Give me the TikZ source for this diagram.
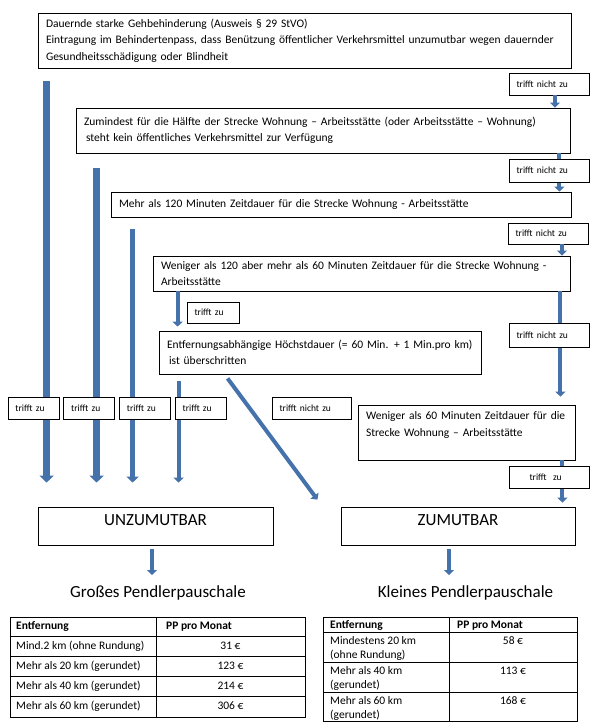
\documentclass[tikz,border=0pt]{standalone}
\usepackage{fontspec}
\setmainfont{Carlito}
\usepackage{xcolor}
\usetikzlibrary{arrows.meta, positioning}
\definecolor{arrowblue}{RGB}{69,114,170}

\begin{document}
\begin{tikzpicture}[x=1pt,y=-1pt,node distance=55.7pt]
       \tikzstyle{box}=[draw,line width=0.8pt,align=left,inner xsep=8pt,inner ysep=2pt,font=\fontsize{11.5}{16.5}\selectfont]
       \tikzstyle{tag}=[draw,fill=white,line width=0.8pt,align=left,inner xsep=7.5pt,inner ysep=1pt,minimum height=22pt,font=\fontsize{9.5}{11}\selectfont]
       \tikzstyle{big}=[draw,line width=0.8pt,minimum width=235pt,minimum height=38pt,text depth=12pt,font=\fontsize{17}{20}\selectfont]
       \tikzstyle{fatarrow}=[draw=arrowblue,line width=6.5pt,-{Triangle[width=14pt,length=7pt]}]
       \tikzstyle{midarrow}=[draw=arrowblue,line width=5pt,-{Triangle[width=12pt,length=6pt]}]
       \tikzstyle{slimarrow}=[draw=arrowblue,line width=4pt,-{Triangle[width=10pt,length=5pt]}]
       \tikzstyle{cell}=[anchor=base west,inner sep=0pt,align=left,font=\fontsize{11.5}{14}\selectfont]
       \tikzstyle{val}=[anchor=base,inner sep=0pt,font=\fontsize{11.5}{14}\selectfont]

       \useasboundingbox (0,0) rectangle (598,728);

       \node[box,text width=517pt,minimum height=55pt] (A) at (304.5,40.5) {Dauernde starke Gehbehinderung (Ausweis § 29 StVO)\\Eintragung im Behindertenpass, dass Benützung öffentlicher Verkehrsmittel unzumutbar wegen dauernder\\Gesundheitsschädigung oder Blindheit};
       \node[box,text width=478pt,minimum height=45pt] (B) at (323,130.5) {Zumindest für die Hälfte der Strecke Wohnung – Arbeitsstätte (oder Arbeitsstätte – Wohnung)\\\hspace*{2pt}steht kein öffentliches Verkehrsmittel zur Verfügung};
       \node[box,text width=444pt,minimum height=25pt] (C) at (341,204.5) {Mehr als 120 Minuten Zeitdauer für die Strecke Wohnung - Arbeitsstätte};
       \node[box,text width=401pt,minimum height=35pt] (D) at (361.5,273.5) {Weniger als 120 aber mehr als 60 Minuten Zeitdauer für die Strecke Wohnung -\\Arbeitsstätte};
       \node[box,text width=306pt,minimum height=43pt] (E) at (320,352.5) {Entfernungsabhängige Höchstdauer (= 60 Min. + 1 Min.pro km)\\\hspace*{2pt}ist überschritten};
       \node[box,text width=201pt,minimum height=55pt] (F) at (466.5,432.5) {Weniger als 60 Minuten Zeitdauer für die\\Strecke Wohnung – Arbeitsstätte\\\mbox{}};

       \node[big]                    (G) at (155.5,526) {UNZUMUTBAR};
       \node[big,minimum width=234pt] (H) at (458,526)   {ZUMUTBAR};

       % arrows that run behind the labels
       \path ([xshift=9pt]A.south west)  edge[fatarrow,shorten <=13pt,shorten >=24pt] ([xshift=9pt]G.north west)
             ([xshift=21pt]B.south west) edge[fatarrow,shorten <=15pt,shorten >=24pt] ([xshift=59pt]G.north west)
             ([xshift=22pt]C.south west) edge[midarrow,shorten <=12pt,shorten >=24pt] ([xshift=95pt]G.north west)
             ([xshift=25pt]D.south west) edge[slimarrow,shorten >=4pt] ([xshift=19pt]E.north west)
             ([xshift=20pt]E.south west) edge[slimarrow,shorten <=7pt,shorten >=24pt] ([xshift=141pt]G.north west)
             ([xshift=66pt]E.south west) edge[slimarrow,shorten <=5pt,shorten >=8.7pt] ([xshift=-18pt]H.north west)
             ([xshift=-11pt]B.south east) edge[slimarrow] ([xshift=-11pt]B.south east |- C.north)
             ([xshift=-10pt]D.south east) edge[slimarrow,shorten >=8pt] ([xshift=-10pt]D.south east |- F.north)
             ([xshift=-13pt]F.south east) edge[slimarrow,shorten >=4pt] ([xshift=-13pt]F.south east |- H.north);

       \node[tag,text width=65pt,minimum height=22pt] (I) at (549,84)    {trifft nicht zu};
       \node[tag,text width=65pt,minimum height=23pt] (J) at (549,170.5) {trifft nicht zu};
       \node[tag,text width=65pt,minimum height=21pt] (K) at (548,233.5) {trifft nicht zu};
       \node[tag,text width=65pt,minimum height=24pt] (L) at (549,335)   {trifft nicht zu};
       \node[tag,text width=64pt] (M) at (311.5,408) {trifft nicht zu};
       \node[tag,text width=37pt,minimum height=21pt] (N) at (213,312.5) {trifft zu};
       \node[tag,text width=36pt] (O) at (33.5,408) {trifft zu};
       \node[tag,text width=36pt] (P) [right of=O] {trifft zu};
       \node[tag,text width=36pt] (Q) [right of=P] {trifft zu};
       \node[tag,text width=36pt] (R) [right of=Q] {trifft zu};
       \node[tag,text width=65pt] (S) at (549,477) {\hspace*{13pt}trifft\ \ zu};

       \path ([xshift=6pt]I.south)  edge[slimarrow] ([xshift=6pt]I.south |- B.north)
             ([xshift=14pt]K.south) edge[slimarrow] ([xshift=14pt]K.south |- D.north);

       \node[anchor=base,inner sep=0pt,font=\fontsize{17}{20}\selectfont] (T) at (158,597)   {Großes Pendlerpauschale};
       \node[anchor=base,inner sep=0pt,font=\fontsize{17}{20}\selectfont] (U) at (465.5,597) {Kleines Pendlerpauschale};

       \path ([xshift=-3.5pt]G.south) edge[slimarrow,shorten <=4pt,shorten >=10pt] ([xshift=-3.5pt]G.south |- T.north)
             ([xshift=-9pt]H.south)   edge[slimarrow,shorten <=4pt,shorten >=10pt] ([xshift=-9pt]H.south |- U.north);

       % Tabelle links
       \draw[line width=0.8pt] (10,617) rectangle (305,717);
       \draw[line width=0.8pt] (156,617) -- (156,717);
       \draw[line width=0.8pt] (10,636) -- (305,636);
       \draw[line width=0.8pt] (10,656) -- (305,656);
       \draw[line width=0.8pt] (10,676) -- (305,676);
       \draw[line width=0.8pt] (10,696) -- (305,696);
       \node[cell,font=\fontsize{11.5}{14}\selectfont\bfseries] (V1) at (16,629)  {Entfernung};
       \node[cell,font=\fontsize{11.5}{14}\selectfont\bfseries] (V2) at (166,629) {PP pro Monat};
       \node[cell] (V3) at (16,649) {Mind.2 km (ohne Rundung)};
       \node[cell] (V4) at (16,669) {Mehr als 20 km (gerundet)};
       \node[cell] (V5) at (16,689) {Mehr als 40 km (gerundet)};
       \node[cell] (V6) at (16,709) {Mehr als 60 km (gerundet)};
       \node[val]  (V7) at (230.5,649) {31 €};
       \node[val]  (V8) at (230.5,669) {123 €};
       \node[val]  (V9) at (230.5,689) {214 €};
       \node[val] (V10) at (230.5,709) {306 €};

       % Tabelle rechts
       \draw[line width=0.8pt] (323,617) rectangle (577,721);
       \draw[line width=0.8pt] (449,617) -- (449,721);
       \draw[line width=0.8pt] (323,632) -- (577,632);
       \draw[line width=0.8pt] (323,662) -- (577,662);
       \draw[line width=0.8pt] (323,692) -- (577,692);
       \node[cell,font=\fontsize{11.5}{14}\selectfont\bfseries] (W1) at (330,628) {Entfernung};
       \node[cell,font=\fontsize{11.5}{14}\selectfont\bfseries] (W2) at (457,628) {PP pro Monat};
       \node[cell] (W3) at (330,658) {Mindestens 20 km\\(ohne Rundung)};
       \node[cell] (W4) at (330,688) {Mehr als 40 km\\(gerundet)};
       \node[cell] (W5) at (330,718) {Mehr als 60 km\\(gerundet)};
       \node[val]  (W6) at (513,644) {58 €};
       \node[val]  (W7) at (513,674) {113 €};
       \node[val]  (W8) at (513,704) {168 €};
\end{tikzpicture}
\end{document}
